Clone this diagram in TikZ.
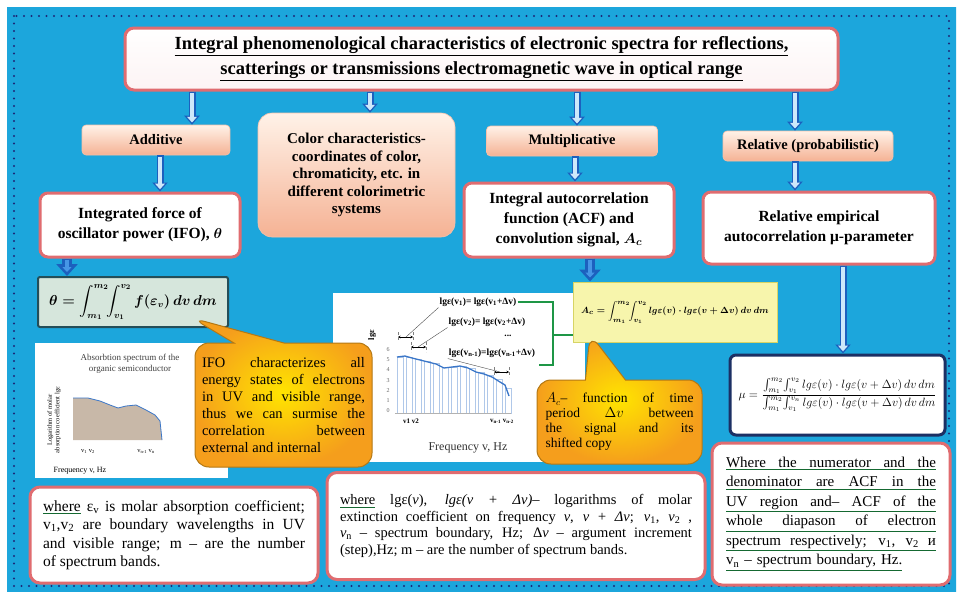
\documentclass[tikz,border=0pt]{standalone}
\usepackage{fontspec}
\setmainfont{Liberation Serif}
\usepackage{amsmath}
\usetikzlibrary{arrows.meta, positioning, calc, shapes.callouts}
\definecolor{BgCyan}{RGB}{28,166,220}
\definecolor{BgDeep}{RGB}{12,104,148}
\definecolor{DotNavy}{RGB}{28,40,120}
\definecolor{BoxRed}{RGB}{224,108,112}
\definecolor{PeachTop}{RGB}{255,242,232}
\definecolor{PeachBot}{RGB}{245,178,148}
\definecolor{ArrBlue}{RGB}{28,96,190}
\definecolor{ArrFill}{RGB}{205,232,250}
\definecolor{ArrShine}{RGB}{70,150,230}
\definecolor{CallTop}{RGB}{245,158,28}
\definecolor{CallBot}{RGB}{255,228,0}
\definecolor{CallLine}{RGB}{180,120,20}
\definecolor{FormGreen}{RGB}{214,230,220}
\definecolor{FormLine}{RGB}{36,78,88}
\definecolor{AcYellow}{RGB}{247,245,172}
\definecolor{AcLine}{RGB}{215,212,100}
\definecolor{MuNavy}{RGB}{28,48,100}
\definecolor{LinkGreen}{RGB}{30,150,70}
\definecolor{PlotBlue}{RGB}{58,118,200}
\definecolor{PlotTan}{RGB}{200,184,168}

\tikzset{
  titlebox/.style={draw=BoxRed, line width=3pt, rounded corners=9pt, top color=white, bottom color=BoxRed!8,
    align=center, font=\fontsize{18.5}{25}\selectfont\bfseries, minimum width=713pt, minimum height=62pt},
  headbox/.style={draw=PeachBot!80!white, line width=0.6pt, rounded corners=4pt, top color=PeachTop,
    bottom color=PeachBot, font=\fontsize{14.5}{16}\selectfont\bfseries, minimum height=30pt},
  mainbox/.style={draw=BoxRed, line width=3pt, rounded corners=8pt, fill=white, align=center,
    font=\fontsize{15.5}{20}\selectfont\bfseries\boldmath},
  notebox/.style={draw=BoxRed, line width=3pt, rounded corners=10pt, fill=white, align=justify, inner sep=0pt},
  calloutbox/.style={rectangle callout, rounded corners=14pt, draw=CallLine, line width=1pt,
    inner color=CallBot, outer color=CallTop, align=justify, inner sep=0pt},
  graphtext/.style={font=\fontsize{9.5}{11}\selectfont\bfseries, inner sep=1pt},
  dvmark/.style={{Stealth[length=2.5pt,width=2.5pt]}-{Stealth[length=2.5pt,width=2.5pt]}, line width=0.5pt},
  arrowout/.style={line width=7pt, ArrBlue, -{Triangle[width=15pt,length=9pt]}},
  arrowin/.style={line width=4pt, ArrFill, shorten <=1.5pt, shorten >=2.2pt, -{Triangle[width=9.5pt,length=5.6pt]}},
  arrowsolid/.style={line width=10pt, ArrBlue, -{Triangle[width=21pt,length=12pt]}},
  arrowshine/.style={line width=4pt, ArrShine, shorten <=1pt, shorten >=4pt, -{Triangle[width=9pt,length=5pt]}},
  link/.style={LinkGreen, line width=1.4pt}
}

\newcommand{\gline}[1]{{\color{LinkGreen!70!black}\underline{\textcolor{black}{#1}}}}
\newcommand{\fullline}[1]{\gline{\hbox to 210pt{\spaceskip=0.25em plus 1fil\relax #1}}}
\newcommand{\hollowarrow}[2]{%
  \draw[arrowout] #1 -- #2;
  \draw[arrowin] #1 -- #2;}
\newcommand{\solidarrow}[2]{%
  \draw[arrowsolid] #1 -- #2;
  \draw[arrowshine] #1 -- #2;}

\begin{document}
\begin{tikzpicture}[x=1pt,y=-1pt]
  \useasboundingbox (0,0) rectangle (963,597);
  \fill[white] (0,0) rectangle (963,597);
  \shade[top color=BgCyan, middle color=BgDeep, bottom color=BgCyan] (7,7) rectangle (956,591);
  \draw[DotNavy, line width=2.4pt, line cap=round, dash pattern=on 0pt off 7.5pt] (14,16) rectangle (949,586);

  % title and first level
  \node[titlebox] (title) at (481.5,59) {\underline{Integral phenomenological characteristics of electronic spectra for reflections,}\\
    \underline{scatterings or transmissions electromagnetic wave in optical range}};

  \node[headbox, minimum width=148pt] (additive) at (156,140) {Additive};
  \node[headbox, minimum width=171pt] (multi) at (572,141) {Multiplicative};
  \node[headbox, minimum width=170pt] (relative) at (808,146) {Relative (probabilistic)};
  \node[headbox, rounded corners=14pt, minimum width=197pt, minimum height=124pt, align=center,
    font=\fontsize{15}{17.5}\selectfont\bfseries] (color) at (356.5,175)
    {Color characteristics-\\coordinates of color,\\chromaticity, etc. in\\different colorimetric\\systems};

  \node[mainbox, minimum width=200pt, minimum height=64pt] (ifo) at (140,225) {Integrated force of\\oscillator power (IFO), $\theta$};
  \node[mainbox, minimum width=210pt, minimum height=74pt] (acf) at (569,220) {Integral autocorrelation\\function (ACF) and\\convolution signal, $A_c$};
  \node[mainbox, minimum width=232pt, minimum height=72pt] (relemp) at (819,228) {Relative empirical\\autocorrelation μ-parameter};

  % left spectrum
  \fill[white] (35,343) rectangle (228,478);
  \node[font=\fontsize{9}{10.5}\selectfont, text=black!75, align=center] (lefttitle) at (130,364) {Absorbtion spectrum of the\\organic semiconductor};
  \fill[PlotTan] (73,398) -- (88,398) -- (100,401) -- (110,405) -- (118,408) -- (126,406) -- (136,405)
    -- (146,410) -- (155,415) -- (160,421) -- (162,440) -- (73,440) -- cycle;
  \draw[PlotBlue, line width=0.8pt] (73,398) -- (88,398) -- (100,401) -- (110,405) -- (118,408) -- (126,406)
    -- (136,405) -- (146,410) -- (155,415) -- (160,421) -- (162,440);
  \node[rotate=90, font=\fontsize{6.5}{7.5}\selectfont, align=center] (leftylabel) at (54,420) {Logarithm of molar\\absorption coefficient lgε};
  \node[font=\fontsize{6.5}{7}\selectfont] (leftvone) at (88,452) {v\textsubscript{1} v\textsubscript{2}};
  \node[font=\fontsize{6.5}{7}\selectfont] (leftvn) at (146,452) {v\textsubscript{n-1} v\textsubscript{n}};
  \node[font=\fontsize{8}{9}\selectfont] (leftfreq) at (80,471) {Frequency v, Hz};

  % central spectrum
  \fill[white] (333,293) rectangle (585,462);
  \foreach \x/\h in {397/357,406/357,415/359,424/361,433/363,442/367,451/367,460/366,469/368,478/372,487/375,496/379,505/388}{
    \draw[PlotBlue!40, line width=0.6pt] (\x,\h) rectangle (\x+6,413);
  }
  \draw[black!30, line width=0.5pt] (395,413) -- (511,413);
  \draw[PlotBlue, line width=1.3pt] (397,357) -- (405,356) -- (412,358) -- (420,360) -- (428,362) -- (436,364)
    -- (444,368) -- (452,367) -- (460,366) -- (468,368) -- (476,372) -- (484,374) -- (492,377) -- (500,382)
    -- (505,385) -- (509,396);
  \foreach \v in {0,...,6}{
    \node[font=\fontsize{6}{7}\selectfont, text=black!60] at (388,{411-10.3*\v}) {\v};
  }
  \node[rotate=90, font=\fontsize{8.5}{9}\selectfont\bfseries] (lgelabel) at (372,335) {lgε};
  \node[font=\fontsize{7}{8}\selectfont\bfseries] (vonevtwo) at (411,421) {v1 v2};
  \node[font=\fontsize{7}{8}\selectfont\bfseries] (vnvn) at (502,421) {v\textsubscript{n-1} v\textsubscript{n-2}};
  \node[font=\fontsize{12}{14}\selectfont, text=black!80] (freq) at (468,448) {Frequency v, Hz};

  \draw[dvmark] (398,337) -- (413,337);
  \draw[dvmark] (411,347) -- (426,347);
  \draw[dvmark] (494,372) -- (509,372);
  \foreach \x/\y in {398/337,413/337,411/347,426/347,494/372,509/372}{
    \draw[black!50, line width=0.3pt, densely dashed] (\x,\y-5) -- (\x,\y+5);
  }
  \node[graphtext] (lblone) at (478,302) {lgε(v\textsubscript{1})= lgε(v\textsubscript{1}+Δv)};
  \node[graphtext] (lbltwo) at (487,322) {lgε(v\textsubscript{2})= lgε(v\textsubscript{2}+Δv)};
  \node[graphtext] (lbldots) at (508,336) {...};
  \node[graphtext] (lbln) at (492,353) {lgε(v\textsubscript{n-1})=lgε(v\textsubscript{n-1}+Δv)};
  \coordinate (markone) at (406,337);
  \coordinate (marktwo) at (418,347);
  \coordinate (markn) at (500,372);
  \draw[black!70, line width=0.4pt] (lblone.south west) -- (markone);
  \draw[black!70, line width=0.4pt] (lbltwo.south west) -- (marktwo);
  \draw[black!70, line width=0.4pt] (lbln.south west) -- (markn);

  % formulas
  \node[draw=FormLine, fill=FormGreen, line width=2pt, rounded corners=2pt, minimum width=190pt, minimum height=50pt,
    font=\fontsize{13.5}{15}\selectfont\boldmath] (theta) at (133,302)
    {$\theta=\displaystyle\int_{m_1}^{m_2}\!\!\int_{v_1}^{v_2} f(\varepsilon_v)\,dv\,dm$};
  \node[draw=AcLine, fill=AcYellow, line width=1pt, minimum width=204pt, minimum height=60pt,
    font=\fontsize{9.3}{11}\selectfont\boldmath] (ac) at (675,312)
    {$A_c=\displaystyle\int_{m_1}^{m_2}\!\!\int_{v_1}^{v_2} lg\varepsilon(v)\cdot lg\varepsilon(v+\Delta v)\,dv\,dm$};
  \node[draw=MuNavy, fill=white, line width=3pt, rounded corners=6pt, minimum width=215pt, minimum height=80pt,
    font=\fontsize{11.5}{13}\selectfont] (mu) at (837.5,395)
    {$\mu=\dfrac{\int_{m_1}^{m_2}\!\int_{v_1}^{v_2} lg\varepsilon(v)\cdot lg\varepsilon(v+\Delta v)\,dv\,dm}{\int_{m_1}^{m_2}\!\int_{v_1}^{v_n} lg\varepsilon(v)\cdot lg\varepsilon(v+\Delta v)\,dv\,dm}$};

  % bracket to the convolution formula
  \coordinate (brtop) at (553,305);
  \coordinate (brbot) at (553,365);
  \coordinate (brmid) at (553,335);
  \draw[link] (lblone.east) -| (brtop) -- (brbot) -- ++(-14,0);
  \draw[link] (brmid) -- (brmid -| ac.west);

  % callouts
  \node[calloutbox, callout absolute pointer={(192,318)}, callout pointer width=50pt, minimum width=177pt, minimum height=124pt,
    text width=163pt, font=\fontsize{14.5}{17}\selectfont] (ifonote) at (283.5,405)
    {IFO characterizes all\linebreak energy states of electrons\linebreak in UV and visible range,\linebreak
     thus we can surmise the\linebreak correlation between\linebreak external and internal};
  \node[calloutbox, callout absolute pointer={(590,334)}, callout pointer width=40pt, minimum width=165pt, minimum height=84pt,
    text width=148pt, font=\fontsize{13.5}{15}\selectfont] (acnote) at (619.5,422)
    {$A_c$-- function of time\linebreak period $\Delta v$ between\linebreak the signal and its\linebreak shifted copy};

  % notes
  \node[notebox, minimum width=288pt, minimum height=96pt, text width=262pt, font=\fontsize{15.5}{18.5}\selectfont] (noteleft) at (174,535)
    {\gline{where} ε\textsubscript{v} is molar absorption coefficient;\linebreak v\textsubscript{1},v\textsubscript{2} are boundary wavelengths in UV\linebreak and visible range; m -- are the number\linebreak of spectrum bands.};
  \node[notebox, minimum width=378pt, minimum height=107pt, text width=352pt, font=\fontsize{14.5}{16.5}\selectfont] (notemid) at (516,526)
    {\gline{where} lgε(\textit{v}), \textit{lgε(v + Δv)}-- logarithms of molar\linebreak extinction coefficient on frequency \textit{v}, \textit{v + Δv}; \textit{v}\textsubscript{1}, \textit{v}\textsubscript{2} ,\linebreak \textit{v}\textsubscript{n} -- spectrum boundary, Hz; Δ\textit{v} -- argument increment\linebreak (step),Hz; m -- are the number of spectrum bands.};
  \node[notebox, minimum width=238pt, minimum height=142pt, text width=210pt, align=left, font=\fontsize{15}{19.5}\selectfont] (noteright) at (831,514)
    {\fullline{Where the numerator and the}\\
     \fullline{denominator are ACF in the}\\
     \fullline{UV region and-- ACF of the}\\
     \fullline{whole diapason of electron}\\
     \fullline{spectrum respectively; v\textsubscript{1}, v\textsubscript{2} и}\\
     \gline{v\textsubscript{n} -- spectrum boundary, Hz.}};

  % arrows
  \hollowarrow{(192,0 |- title.south)}{(192,0 |- additive.north)}
  \hollowarrow{(370,0 |- title.south)}{(370,0 |- color.north)}
  \hollowarrow{(577,0 |- title.south)}{(577,0 |- multi.north)}
  \hollowarrow{(795,0 |- title.south)}{(795,0 |- relative.north)}
  \hollowarrow{(160,0 |- additive.south)}{(160,0 |- ifo.north)}
  \hollowarrow{(575,0 |- multi.south)}{(575,0 |- acf.north)}
  \hollowarrow{(795,0 |- relative.south)}{(795,0 |- relemp.north)}
  \hollowarrow{(843,0 |- relemp.south)}{(843,0 |- mu.north)}
  \solidarrow{(67,0 |- ifo.south)}{(67,0 |- theta.north)}
  \solidarrow{(590,0 |- acf.south)}{(590,0 |- ac.north)}
\end{tikzpicture}
\end{document}
